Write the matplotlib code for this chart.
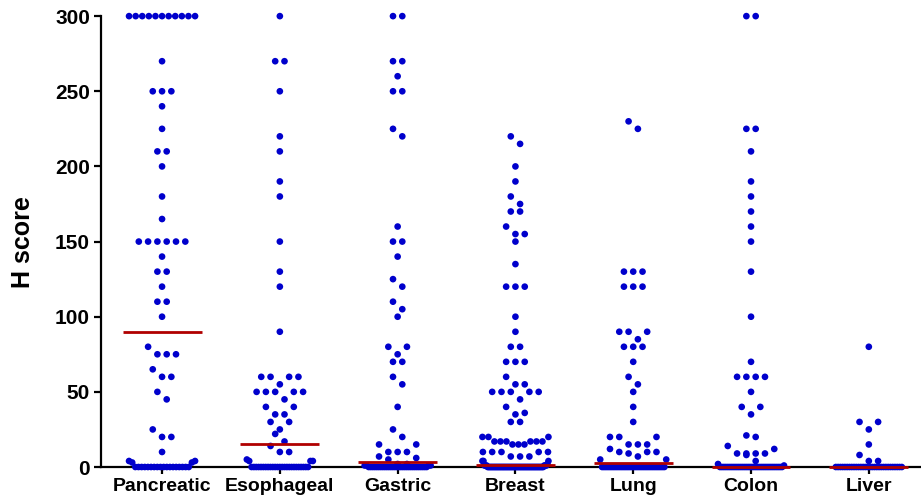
import numpy as np
import matplotlib
matplotlib.use("Agg")
import matplotlib.pyplot as plt

plt.rcParams['font.family'] = ['Liberation Sans', 'DejaVu Sans']

# H scores as (value, number of dots)
categories = ['Pancreatic', 'Esophageal', 'Gastric', 'Breast', 'Lung', 'Colon', 'Liver']

pancreatic_vals = [300, 270, 250, 240, 225, 210, 200, 180, 165, 150, 140, 130, 120, 110, 100,
                   80, 75, 65, 60, 50, 45, 25, 20, 10, 4, 3, 0]
pancreatic_cnts = [11, 1, 3, 1, 1, 2, 1, 1, 1, 6, 1, 2, 1, 2, 1,
                   1, 3, 1, 2, 1, 1, 1, 2, 1, 2, 2, 18]

esophageal_vals = [300, 270, 250, 220, 210, 190, 180, 150, 130, 120, 90, 60, 55, 50, 45,
                   40, 35, 30, 25, 22, 17, 14, 10, 5, 4, 0]
esophageal_cnts = [1, 2, 1, 1, 1, 1, 1, 1, 1, 1, 1, 4, 1, 5, 1,
                   2, 2, 2, 1, 1, 1, 1, 2, 1, 3, 25]

gastric_vals = [300, 270, 260, 250, 225, 220, 160, 150, 140, 125, 120, 110, 105, 100,
                80, 75, 70, 60, 55, 40, 25, 20, 15, 10, 7, 6, 5, 2, 1, 0]
gastric_cnts = [2, 2, 1, 2, 1, 1, 1, 2, 1, 1, 1, 1, 1, 1,
                2, 1, 2, 1, 1, 1, 1, 1, 2, 3, 1, 1, 1, 2, 4, 30]

breast_vals = [220, 215, 200, 190, 180, 175, 170, 160, 155, 150, 135, 120, 100, 90, 80,
               70, 60, 55, 50, 45, 40, 36, 35, 30, 20, 17, 15, 10, 7, 4, 2, 1, 0]
breast_cnts = [1, 1, 1, 1, 1, 1, 2, 1, 2, 1, 1, 3, 1, 1, 2,
               3, 1, 2, 5, 1, 1, 1, 1, 2, 3, 6, 3, 5, 3, 3, 1, 6, 55]

lung_vals = [230, 225, 130, 120, 90, 85, 80, 70, 60, 55, 50, 40, 30, 20, 15, 12, 10, 9, 7, 5, 0]
lung_cnts = [1, 1, 3, 3, 3, 1, 3, 1, 1, 1, 1, 1, 1, 3, 3, 1, 3, 1, 1, 2, 35]

colon_vals = [300, 225, 210, 190, 180, 170, 160, 150, 130, 100, 70, 60, 50, 40, 35,
              21, 20, 14, 12, 9, 8, 4, 2, 1, 0]
colon_cnts = [2, 2, 1, 1, 1, 1, 1, 1, 1, 1, 1, 4, 1, 2, 1,
              1, 1, 1, 1, 4, 1, 1, 1, 1, 34]

liver_vals = [80, 30, 25, 15, 8, 4, 0]
liver_cnts = [1, 2, 1, 1, 1, 2, 30]

groups = [
    np.repeat(pancreatic_vals, pancreatic_cnts),
    np.repeat(esophageal_vals, esophageal_cnts),
    np.repeat(gastric_vals, gastric_cnts),
    np.repeat(breast_vals, breast_cnts),
    np.repeat(lung_vals, lung_cnts),
    np.repeat(colon_vals, colon_cnts),
    np.repeat(liver_vals, liver_cnts),
]

# layout (x units: one category = ~117.8 px)
px = 1 / 117.8
step = 9.3 * px      # dot spacing inside a row
max_w = 66 * px      # widest row, centre to centre
bin_h = 5.5          # values this close share a row


def swarm(vals):
    """Prism-like scatter: rows of close values spread symmetrically."""
    vals = np.sort(np.asarray(vals, float))[::-1]
    xs, ys = [], []
    i = 0
    while i < len(vals):
        top = vals[i]
        j = i
        while j < len(vals) and vals[j] >= top - bin_h:
            j += 1
        row = np.sort(vals[i:j])
        n = len(row)
        s = step if (n - 1) * step <= max_w else max_w / (n - 1)
        slots = (np.arange(n) - (n - 1) / 2) * s
        slots = sorted(slots, key=lambda p: (round(abs(p), 9), -p))
        xs.extend(slots)
        ys.extend(row)
        i = j
    return np.array(xs), np.array(ys)


fig = plt.figure(figsize=(9.21, 5.04), dpi=100)
ax = fig.add_axes([0.1097, 0.0734, 1 - 0.1097, 0.968 - 0.0734])

for k, g in enumerate(groups):
    dx, y = swarm(g)
    ax.scatter(k + dx, y, s=23, color='#0000cc', edgecolors='none',
               zorder=3, clip_on=False)
    ax.hlines(np.median(g), k - 0.335, k + 0.335, color='#b00000',
              linewidth=2.0, zorder=4, clip_on=False)

ax.set_xlim(-0.518, 6.443)
ax.set_ylim(0, 300)
ax.set_yticks(np.arange(0, 301, 50))
ax.set_xticks(range(len(categories)))
ax.set_xticklabels(categories)

for sp in ['top', 'right']:
    ax.spines[sp].set_visible(False)
for sp in ['left', 'bottom']:
    ax.spines[sp].set_linewidth(1.6)
    ax.spines[sp].set_zorder(2)

ax.tick_params(axis='both', width=1.6, length=5, pad=3)
ax.tick_params(axis='x', labelsize=14)
ax.tick_params(axis='y', labelsize=15)
for lab in ax.get_xticklabels() + ax.get_yticklabels():
    lab.set_fontweight('bold')

ax.set_ylabel('H score', fontsize=18, fontweight='bold', labelpad=14)

fig.savefig('out.png', dpi=100)
